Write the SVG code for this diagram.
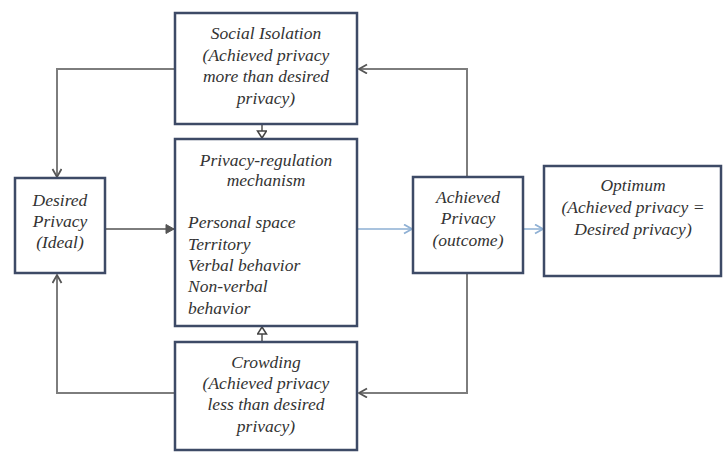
<svg xmlns="http://www.w3.org/2000/svg" width="723" height="453" viewBox="0 0 723 453">
<style>
.box{fill:#ffffff;stroke:#3d4a66;stroke-width:2.5}
.t{font-style:italic;font-size:17.5px;fill:#333333}
.c{text-anchor:middle}
.g{fill:none;stroke:#7d7d7d;stroke-width:2}
.b{fill:none;stroke:#a9c3de;stroke-width:2}
</style>
<defs>
<marker id="ag" markerUnits="userSpaceOnUse" markerWidth="12" markerHeight="12" refX="9" refY="5" orient="auto">
<path d="M1,0.5 L9,5 L1,9.5" fill="none" stroke="#555" stroke-width="1.8"/>
</marker>
<marker id="af" markerUnits="userSpaceOnUse" markerWidth="12" markerHeight="12" refX="9" refY="5" orient="auto">
<path d="M1,0.5 L9,5 L1,9.5 Z" fill="#555" stroke="#555" stroke-width="1"/>
</marker>
<marker id="ab" markerUnits="userSpaceOnUse" markerWidth="12" markerHeight="12" refX="9" refY="5" orient="auto">
<path d="M1,0.5 L9,5 L1,9.5" fill="none" stroke="#8fb0d4" stroke-width="1.8"/>
</marker>
<marker id="as" markerUnits="userSpaceOnUse" markerWidth="12" markerHeight="12" refX="8" refY="5" orient="auto">
<path d="M1,0.5 L8,5 L1,9.5 Z" fill="#ffffff" stroke="#444" stroke-width="1.5"/>
</marker>
</defs>
<rect width="723" height="453" fill="#ffffff"/>
<g id="connectors">
<path class="g" d="M175,69 H57 V177" marker-end="url(#ag)"/>
<path class="g" d="M467,177 V69 H359" marker-end="url(#ag)"/>
<path class="g" d="M467,273 V393 H359" marker-end="url(#ag)"/>
<path class="g" d="M175,393 H57 V275" marker-end="url(#ag)"/>
<path class="g" d="M106,229 H174" marker-end="url(#af)"/>
<path class="b" d="M358,229 H412" marker-end="url(#ab)"/>
<path class="b" d="M524,229 H543" marker-end="url(#ab)"/>
<path class="g" d="M262,125 V138" marker-end="url(#as)"/>
<path class="g" d="M262,341 V327" marker-end="url(#as)"/>
</g>
<g font-family="Liberation Serif, Tinos, Times New Roman, DejaVu Serif, Noto Serif, serif">
<g id="social-isolation">
<rect class="box" x="175" y="13" width="182" height="111"/>
<text class="t c" x="266" y="39">Social Isolation</text>
<text class="t c" x="266" y="61">(Achieved privacy</text>
<text class="t c" x="266" y="82">more than desired</text>
<text class="t c" x="266" y="104">privacy)</text>
</g>
<g id="privacy-regulation">
<rect class="box" x="175" y="139" width="182" height="187"/>
<text class="t c" x="266" y="166">Privacy-regulation</text>
<text class="t c" x="266" y="186">mechanism</text>
<text class="t" x="188" y="228">Personal space</text>
<text class="t" x="188" y="250">Territory</text>
<text class="t" x="188" y="271">Verbal behavior</text>
<text class="t" x="188" y="292">Non-verbal</text>
<text class="t" x="188" y="314">behavior</text>
</g>
<g id="crowding">
<rect class="box" x="175" y="342" width="182" height="108"/>
<text class="t c" x="266" y="368">Crowding</text>
<text class="t c" x="266" y="389">(Achieved privacy</text>
<text class="t c" x="266" y="410">less than desired</text>
<text class="t c" x="266" y="432">privacy)</text>
</g>
<g id="desired-privacy">
<rect class="box" x="15" y="178" width="90" height="95"/>
<text class="t c" x="60" y="206">Desired</text>
<text class="t c" x="60" y="227">Privacy</text>
<text class="t c" x="60" y="248">(Ideal)</text>
</g>
<g id="achieved-privacy">
<rect class="box" x="413" y="177" width="110" height="96"/>
<text class="t c" x="468" y="203">Achieved</text>
<text class="t c" x="468" y="224">Privacy</text>
<text class="t c" x="468" y="246">(outcome)</text>
</g>
<g id="optimum">
<rect class="box" x="544" y="166" width="177" height="110"/>
<text class="t c" x="633" y="191">Optimum</text>
<text class="t c" x="633" y="213">(Achieved privacy =</text>
<text class="t c" x="633" y="235">Desired privacy)</text>
</g>
</g>
</svg>
